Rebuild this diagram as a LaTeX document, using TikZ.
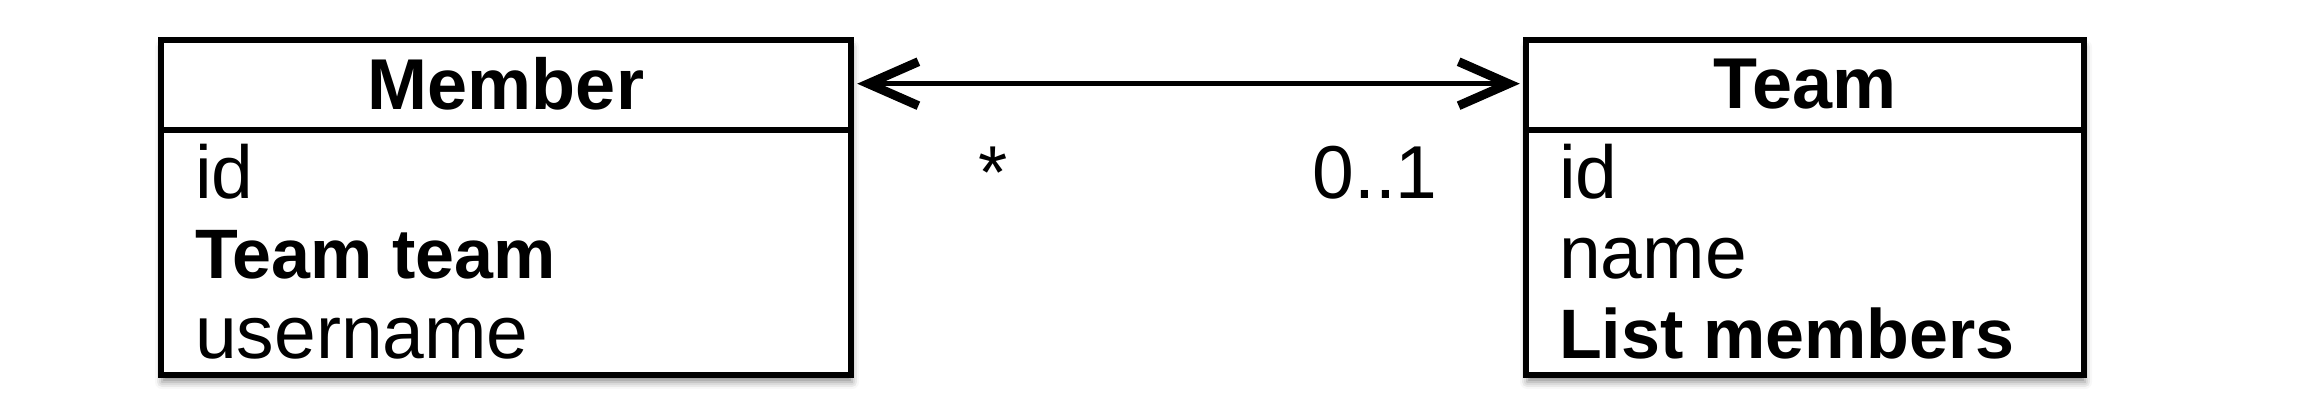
\documentclass[tikz,border=0pt]{standalone}
\usepackage{fontspec}
\setmainfont{Liberation Sans}
\usetikzlibrary{arrows.meta,shadows.blur}
\begin{document}
\begin{tikzpicture}[x=1pt,y=-1pt,
  classbox/.style={draw=black, line width=6pt, fill=white, rectangle, inner sep=0pt,
    blur shadow={shadow xshift=1pt, shadow yshift=-7pt, shadow blur radius=7pt, shadow opacity=45}},
  headbox/.style={rectangle, inner sep=0pt, font=\fontsize{72}{80}\selectfont\bfseries},
  divider/.style={line width=6pt},
  attr/.style={anchor=base west, inner sep=0pt, font=\fontsize{75}{80}\selectfont},
  battr/.style={anchor=base west, inner sep=0pt, font=\fontsize{70}{80}\selectfont\bfseries},
  mult/.style={anchor=base, inner sep=0pt, font=\fontsize{75}{80}\selectfont},
  barb/.tip={Straight Barb[length=50pt,width=44pt,line width=9pt,line cap=butt]},
  assoc/.style={line width=5pt, barb-barb, shorten <=6pt, shorten >=6pt}
]
\useasboundingbox (0,0) rectangle (2300,420);

% Member class
\node[classbox, minimum width=690pt, minimum height=335pt] (member) at (506,207.5) {};
\node[headbox, minimum width=690pt, minimum height=93pt, anchor=north] (memberhead) at (member.north) {Member};
\draw[divider] (memberhead.south west) -- (memberhead.south east);
\node[attr] (mid) at (195,198) {id};
\node[battr] (mteam) at (195,278) {Team team};
\node[attr] (muser) at (195,358) {username};

% Team class
\node[classbox, minimum width=558pt, minimum height=335pt] (team) at (1805,207.5) {};
\node[headbox, minimum width=558pt, minimum height=93pt, anchor=north] (teamhead) at (team.north) {Team};
\draw[divider] (teamhead.south west) -- (teamhead.south east);
\node[attr] (tid) at (1559,198) {id};
\node[attr] (tname) at (1559,278) {name};
\node[battr] (tmembers) at (1559,358) {List members};

% association
\draw[assoc] (memberhead.east) -- (teamhead.west);
\node[mult] (m1) at (993,198) {*};
\node[mult] (m2) at (1375,198) {0..1};
\end{tikzpicture}
\end{document}
